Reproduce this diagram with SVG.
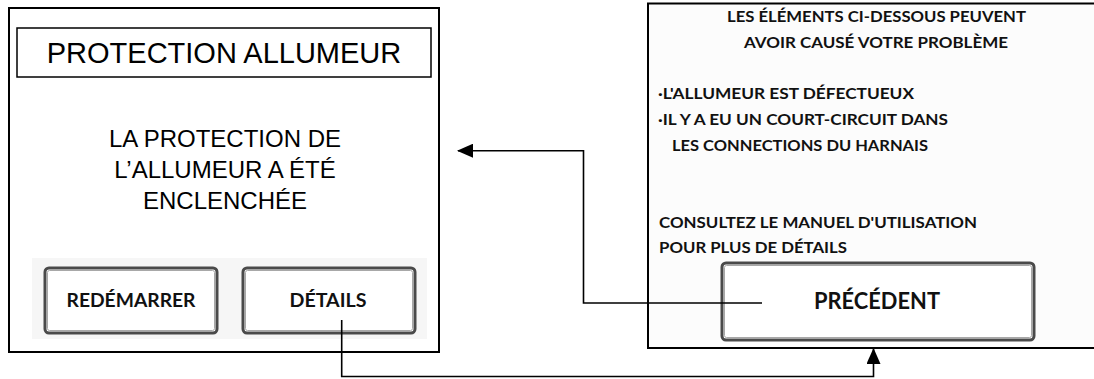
<svg xmlns="http://www.w3.org/2000/svg" width="1094" height="379" viewBox="0 0 1094 379">
  <style>
    .frame { fill: #ffffff; stroke: #000; stroke-width: 2; }
    .btn { fill: #ffffff; stroke: #4a4a4a; stroke-width: 3; }
    .btnin { fill: none; stroke: #a8a8a8; stroke-width: 1; }
    .arial { font-family: "Liberation Sans", Arial, sans-serif; fill: #000; }
    .cal { font-family: Lato, "Open Sans", sans-serif; font-weight: 700; fill: #111; }
    .conn { fill: none; stroke: #000; stroke-width: 1.6; }
  </style>
  <defs>
    <marker id="arrow" viewBox="0 0 10 10" refX="9" refY="5" markerWidth="10" markerHeight="10" markerUnits="userSpaceOnUse" orient="auto">
      <path d="M0,0 L10,5 L0,10 Z" fill="#000"/>
    </marker>
    <marker id="arrowL" viewBox="0 0 16 14" refX="15" refY="7" markerWidth="16" markerHeight="14" markerUnits="userSpaceOnUse" orient="auto">
      <path d="M0,0 L16,7 L0,14 Z" fill="#000"/>
    </marker>
  </defs>
  <rect width="1094" height="379" fill="#ffffff"/>

  <g id="screen-protection">
    <rect class="frame" x="9" y="8" width="430" height="344"/>
    <rect x="17" y="28" width="414" height="49" fill="#fff" stroke="#000" stroke-width="1.5"/>
    <text class="arial" x="224" y="63" font-size="29" text-anchor="middle">PROTECTION ALLUMEUR</text>
    <text class="arial" x="225" y="147" font-size="24" text-anchor="middle">LA PROTECTION DE</text>
    <text class="arial" x="225" y="178" font-size="24" text-anchor="middle">L’ALLUMEUR A ÉTÉ</text>
    <text class="arial" x="225" y="209" font-size="24" text-anchor="middle">ENCLENCHÉE</text>
    <rect x="32" y="258" width="395" height="81" fill="#f6f6f6"/>
  </g>

  <g id="btn-redemarrer">
    <rect class="btn" x="45" y="268" width="172" height="65" rx="4"/>
    <rect class="btnin" x="47.5" y="270.5" width="167" height="60" rx="2"/>
    <text class="cal" x="131" y="307" font-size="19" text-anchor="middle" textLength="129" lengthAdjust="spacingAndGlyphs">REDÉMARRER</text>
  </g>

  <g id="btn-details">
    <rect class="btn" x="243" y="268" width="172" height="65" rx="4"/>
    <rect class="btnin" x="245.5" y="270.5" width="167" height="60" rx="2"/>
    <text class="cal" x="328" y="307" font-size="19" text-anchor="middle" textLength="77" lengthAdjust="spacingAndGlyphs">DÉTAILS</text>
  </g>

  <g id="screen-details">
    <rect x="648" y="3.5" width="450" height="344.5" fill="#fcfcfc" stroke="#000" stroke-width="2"/>
    <text class="cal" x="876.5" y="22" font-size="15" text-anchor="middle" textLength="299" lengthAdjust="spacingAndGlyphs">LES ÉLÉMENTS CI-DESSOUS PEUVENT</text>
    <text class="cal" x="876" y="48" font-size="15" text-anchor="middle" textLength="264" lengthAdjust="spacingAndGlyphs">AVOIR CAUSÉ VOTRE PROBLÈME</text>
    <text class="cal" x="658" y="99" font-size="15" textLength="256" lengthAdjust="spacingAndGlyphs">·L'ALLUMEUR EST DÉFECTUEUX</text>
    <text class="cal" x="658" y="125" font-size="15" textLength="290" lengthAdjust="spacingAndGlyphs">·IL Y A EU UN COURT-CIRCUIT DANS</text>
    <text class="cal" x="672" y="151" font-size="15" textLength="256" lengthAdjust="spacingAndGlyphs">LES CONNECTIONS DU HARNAIS</text>
    <text class="cal" x="659" y="228" font-size="15" textLength="318" lengthAdjust="spacingAndGlyphs">CONSULTEZ LE MANUEL D'UTILISATION</text>
    <text class="cal" x="659" y="253" font-size="15" textLength="188" lengthAdjust="spacingAndGlyphs">POUR PLUS DE DÉTAILS</text>
  </g>

  <g id="btn-precedent">
    <rect class="btn" x="722" y="263" width="312" height="77" rx="4"/>
    <rect class="btnin" x="724.5" y="265.5" width="307" height="72" rx="2"/>
    <text class="cal" x="877" y="309" font-size="22" text-anchor="middle" textLength="126" lengthAdjust="spacingAndGlyphs">PRÉCÉDENT</text>
  </g>

  <g id="connectors">
    <path class="conn" d="M341.7,320 V376.5 H873.5 V349" marker-end="url(#arrowL)"/>
    <path class="conn" d="M762,303 H583.5 V150.7 H458" marker-end="url(#arrowL)"/>
  </g>
</svg>
